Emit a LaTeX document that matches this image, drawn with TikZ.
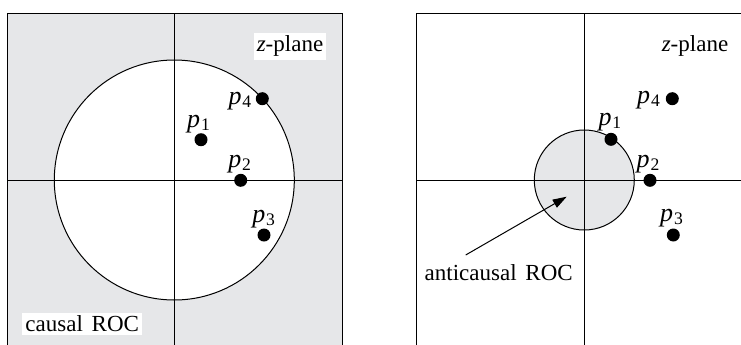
\documentclass[tikz,border=0pt]{standalone}
\usepackage{fontspec}
\setmainfont{Liberation Serif}
\usetikzlibrary{arrows.meta, positioning}
\definecolor{rocgray}{RGB}{230,231,233}
\newcommand{\pp}[1]{{\fontsize{13}{15}\selectfont\itshape p}\kern0.4pt\raisebox{-1.6pt}{\fontsize{8.8}{10}\selectfont #1}}

\begin{document}
\begin{tikzpicture}[x=0.5pt, y=-0.5pt, font=\fontsize{11.5}{14}\selectfont,
    pole/.style={circle, fill=black, inner sep=0pt, minimum size=6.5pt},
    plab/.style={inner sep=0pt},
    tag/.style={fill=white, inner sep=1.5pt, anchor=base},
    thin line/.style={line width=0.5pt}]
  \useasboundingbox (0,0) rectangle (741,344);
  % left panel: causal ROC (outside the circle)
  \fill[rocgray] (7,13) rectangle (342.5,360);
  \draw[thin line, fill=white] (174.3,180) circle[radius=120];
  \draw[thin line] (7,360) -- (7,13) -- (342.5,13) -- (342.5,360);
  \draw[thin line] (7,180) -- (342.5,180);
  \draw[thin line] (174.3,13) -- (174.3,360);
  \node[pole] (lp1) at (201,139.7) {};
  \node[pole] (lp2) at (240.7,180.3) {};
  \node[pole] (lp3) at (264,235) {};
  \node[pole] (lp4) at (262.3,98.7) {};
  \node[plab] (lp1lab) at (198.5,124) {\pp{1}};
  \node[plab] (lp2lab) at (239.7,164) {\pp{2}};
  \node[plab] (lp3lab) at (263.7,219) {\pp{3}};
  \node[plab] (lp4lab) at (240,101) {\pp{4}};
  \node[tag] (lplane) at (290,51.7) {\textit{z}-plane};
  \node[tag] (lroc) at (82.2,331.7) {causal\hspace{0.38em}ROC};
  % right panel: anticausal ROC (inside the circle)
  \draw[thin line, fill=rocgray] (584.3,180) circle[radius=50];
  \draw[thin line] (752,13) -- (416,13) -- (416,360);
  \draw[thin line] (416,180) -- (752,180);
  \draw[thin line] (584.3,13) -- (584.3,360);
  \node[pole] (rp1) at (611,139.3) {};
  \node[pole] (rp2) at (650,180.3) {};
  \node[pole] (rp3) at (673.3,235) {};
  \node[pole] (rp4) at (672.3,98.7) {};
  \node[plab] (rp1lab) at (610,122) {\pp{1}};
  \node[plab] (rp2lab) at (648,164) {\pp{2}};
  \node[plab] (rp3lab) at (671.5,218) {\pp{3}};
  \node[plab] (rp4lab) at (648.5,100) {\pp{4}};
  \node[tag, fill=none] (rplane) at (695,51) {\textit{z}-plane};
  \node[tag, fill=none] (rroc) at (498.7,280) {anticausal\hspace{0.38em}ROC};
  \coordinate (tail) at (465.7,255);
  \coordinate (tip) at (566.7,196.7);
  \draw[thin line, -{Triangle[length=7pt, width=4.5pt]}] (tail) -- (tip);
\end{tikzpicture}
\end{document}
